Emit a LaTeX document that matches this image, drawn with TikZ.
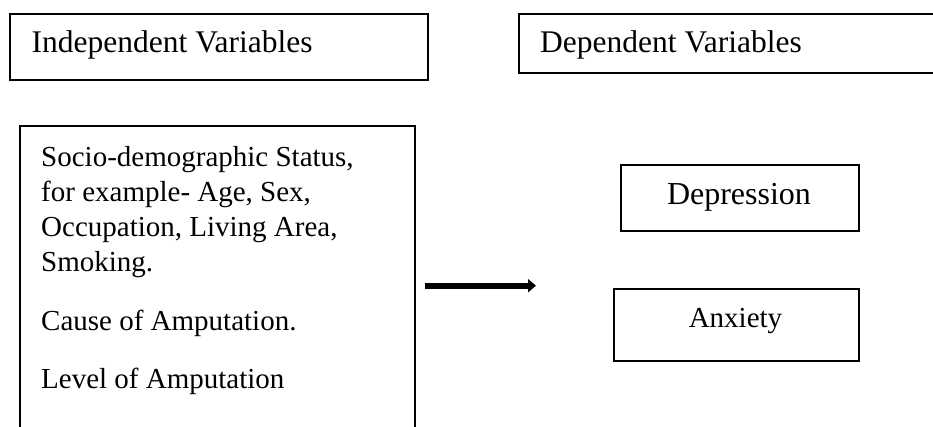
\documentclass[tikz,border=0pt]{standalone}
\usepackage{fontspec}
\setmainfont{Liberation Serif}
\usetikzlibrary{arrows.meta}
\begin{document}
\begin{tikzpicture}[x=1pt,y=-1pt,
  box/.style={draw, line width=1.8pt, inner sep=0pt, anchor=north west},
  headbox/.style={box, line width=2.4pt},
  headtxt/.style={anchor=base west, inner sep=0pt, font=\fontsize{31.5}{36}\selectfont},
  lbl/.style={anchor=base west, inner sep=0pt, font=\fontsize{29}{35}\selectfont},
  outtxt/.style={anchor=base, inner sep=0pt},
  bigarrow/.style={line width=6pt, -{Triangle[length=8pt,width=13pt]}}]
\useasboundingbox (0,0) rectangle (933,427);
% header boxes
\node[headbox, minimum width=418pt, minimum height=66pt] (ivh) at (9,13) {};
\node[headtxt] (ivt) at (31.5,53) {Independent Variables};
\node[headbox, minimum width=440pt, minimum height=59pt] (dvh) at (518,13) {};
\node[headtxt] (dvt) at (540,53) {Dependent Variables};
% independent variables box
\node[box, minimum width=395pt, minimum height=330pt] (iv) at (19,125) {};
\node[lbl] (l1) at (41,167) {Socio-demographic Status,};
\node[lbl] (l2) at (41,202) {for example- Age, Sex,};
\node[lbl] (l3) at (41,237) {Occupation, Living Area,};
\node[lbl] (l4) at (41,272) {Smoking.};
\node[lbl] (l5) at (41,330) {Cause of Amputation.};
\node[lbl] (l6) at (41,388) {Level of Amputation};
% dependent variables
\node[box, minimum width=238pt, minimum height=66pt] (dep) at (620,164) {};
\node[outtxt, font=\fontsize{32}{36}\selectfont] (dept) at (739,205) {Depression};
\node[box, minimum width=245pt, minimum height=72pt] (anx) at (613,288) {};
\node[outtxt, font=\fontsize{29}{35}\selectfont] (anxt) at (735.5,327) {Anxiety};
% arrow
\coordinate (a1) at (425,285.7);
\coordinate (a2) at (536,285.7);
\draw[bigarrow] (a1) -- (a2);
\end{tikzpicture}
\end{document}
